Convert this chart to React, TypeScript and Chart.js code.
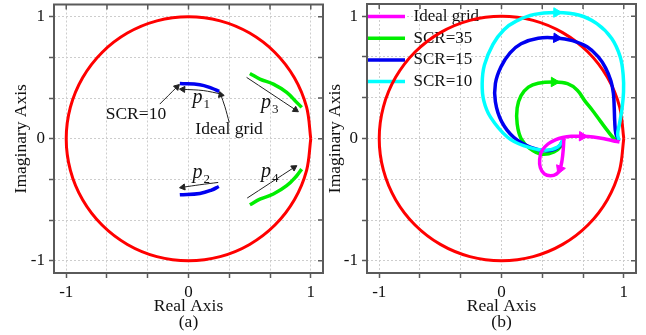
import React, { useEffect, useRef } from 'react';
import { Chart, registerables } from 'chart.js';

Chart.register(...registerables);

type Pt = [number, number];

const FONT = '"Liberation Serif", "Times New Roman", Times, serif';
const TEXT = '#111111';
const FRAME = '#5a5a5a';
const GRID = '#cdcdcd';
const RED = '#ff0000';
const BLUE = '#0000f0';
const GREEN = '#00ee00';
const CYAN = '#00ffff';
const MAGENTA = '#ff00ff';
const ANNOT = '#222222';

// ---- axes ----
const AXIS_MIN = -1.1;
const AXIS_MAX = 1.1;
const GRID_TICKS = [-1, -2 / 3, -1 / 3, 0, 1 / 3, 2 / 3, 1];
const LABELED_TICKS = [-1, 0, 1];

// ---- unit circle (reference) ----
const UNIT_CIRCLE: Pt[] = [
  [1, 0], [0.9659, 0.2588], [0.866, 0.5], [0.7071, 0.7071], [0.5, 0.866], [0.2588, 0.9659],
  [0, 1], [-0.2588, 0.9659], [-0.5, 0.866], [-0.7071, 0.7071], [-0.866, 0.5], [-0.9659, 0.2588],
  [-1, 0], [-0.9659, -0.2588], [-0.866, -0.5], [-0.7071, -0.7071], [-0.5, -0.866], [-0.2588, -0.9659],
  [0, -1], [0.2588, -0.9659], [0.5, -0.866], [0.7071, -0.7071], [0.866, -0.5], [0.9659, -0.2588], [1, 0],
];

// ---- panel (a): eigenvalue tracks ----
const A_P1: Pt[] = [[-0.071, 0.453], [0.093, 0.443], [0.188, 0.415], [0.251, 0.388]];
const A_P2: Pt[] = [[-0.071, -0.459], [0.093, -0.448], [0.188, -0.421], [0.248, -0.391]];
const A_P3: Pt[] = [[0.502, 0.535], [0.584, 0.489], [0.694, 0.448], [0.803, 0.38], [0.885, 0.298], [0.926, 0.257]];
const A_P4: Pt[] = [[0.502, -0.541], [0.584, -0.495], [0.694, -0.453], [0.803, -0.385], [0.885, -0.303], [0.926, -0.249]];

// panel (a) annotation arrows (tail -> head)
const ARROW_P1: Pt[] = [[0.27, 0.366], [0.12, 0.395], [-0.045, 0.405]];
const ARROW_SCR10: Pt[] = [[-0.235, 0.284], [-0.095, 0.424]];
const ARROW_IDEAL: Pt[] = [[0.333, 0.134], [0.298, 0.262], [0.264, 0.36]];
const ARROW_P3: Pt[] = [[0.475, 0.503], [0.875, 0.237]];
const ARROW_P2: Pt[] = [[0.243, -0.358], [0.093, -0.377], [-0.045, -0.397]];
const ARROW_P4: Pt[] = [[0.48, -0.486], [0.862, -0.236]];

const A_TEXTS = [
  { text: 'SCR=10', x: -0.43, y: 0.2 },
  { text: 'Ideal grid', x: 0.332, y: 0.079 },
];
const A_P_LABELS = [
  { sub: '1', x: 0.033, y: 0.297 },
  { sub: '2', x: 0.033, y: -0.324 },
  { sub: '3', x: 0.593, y: 0.256 },
  { sub: '4', x: 0.593, y: -0.31 },
];

// ---- panel (b): trajectories ----
const B_IDEAL: Pt[] = [
  [0.51, 0.0], [0.505, -0.09], [0.495, -0.18], [0.478, -0.25], [0.45, -0.29], [0.4, -0.305],
  [0.35, -0.29], [0.318, -0.24], [0.312, -0.17], [0.33, -0.1], [0.38, -0.045], [0.44, -0.012],
  [0.5, 0.008], [0.57, 0.018], [0.66, 0.018], [0.75, 0.012], [0.84, -0.002], [0.91, -0.018], [0.965, -0.028],
];
const B_IDEAL_ARROWS = [3, 14];

const B_SCR35: Pt[] = [
  [0.51, 0.0], [0.49, -0.06], [0.43, -0.11], [0.33, -0.128], [0.23, -0.08], [0.16, 0.0],
  [0.128, 0.12], [0.128, 0.25], [0.16, 0.35], [0.22, 0.42], [0.3, 0.452], [0.43, 0.462],
  [0.54, 0.448], [0.62, 0.395], [0.68, 0.31], [0.74, 0.235], [0.81, 0.14], [0.87, 0.06],
  [0.92, 0.0], [0.96, -0.025],
];
const B_SCR35_ARROWS = [11];

const B_SCR15: Pt[] = [
  [0.51, 0.0], [0.46, -0.075], [0.37, -0.1], [0.24, -0.072], [0.1, 0.01], [0.0, 0.14],
  [-0.05, 0.3], [-0.05, 0.45], [-0.005, 0.585], [0.07, 0.7], [0.16, 0.775], [0.3, 0.82],
  [0.45, 0.822], [0.58, 0.8], [0.7, 0.75], [0.79, 0.67], [0.85, 0.58], [0.895, 0.47],
  [0.915, 0.37], [0.922, 0.25], [0.926, 0.14], [0.935, 0.04], [0.96, -0.02],
];
const B_SCR15_ARROWS = [12];

const B_SCR10: Pt[] = [
  [0.51, 0.0], [0.46, -0.07], [0.35, -0.095], [0.18, -0.058], [0.05, 0.01], [-0.09, 0.175],
  [-0.145, 0.31], [-0.158, 0.45], [-0.14, 0.6], [-0.07, 0.77], [0.02, 0.89], [0.12, 0.96],
  [0.27, 1.015], [0.45, 1.03], [0.63, 1.01], [0.78, 0.94], [0.9, 0.82], [0.97, 0.67],
  [0.995, 0.52], [0.998, 0.38], [0.985, 0.24], [0.965, 0.12], [0.95, 0.04], [0.96, -0.015],
];
const B_SCR10_ARROWS = [13];

const B_LABELS = ['Ideal grid', 'SCR=35', 'SCR=15', 'SCR=10'];

// ---- helpers ----
const toXY = (pts: Pt[]) => pts.map(([x, y]) => ({ x, y }));

function rotationAt(pts: Pt[], i: number) {
  const a = pts[Math.max(i - 1, 0)];
  const b = pts[Math.min(i + 1, pts.length - 1)];
  const deg = (Math.atan2(b[1] - a[1], b[0] - a[0]) * 180) / Math.PI;
  return 90 - deg;
}

function curve(pts: Pt[], color: string, width: number, extra: any = {}) {
  return {
    data: toXY(pts),
    borderColor: color,
    backgroundColor: color,
    borderWidth: width,
    pointRadius: 0,
    pointHoverRadius: 0,
    tension: 0.4,
    ...extra,
  };
}

function arrowCurve(pts: Pt[], color: string, width: number, arrowIdx: number[], size: number, extra: any = {}) {
  return {
    ...curve(pts, color, width, extra),
    pointStyle: 'triangle',
    pointRadius: (c: any) => (arrowIdx.includes(c.dataIndex) ? size : 0),
    pointRotation: (c: any) => rotationAt(pts, c.dataIndex),
    pointBackgroundColor: color,
    pointBorderColor: color,
    pointBorderWidth: 1,
  };
}

function tickLabel(v: number) {
  const hit = LABELED_TICKS.find((t) => Math.abs(t - v) < 1e-6);
  return hit === undefined ? '' : String(hit);
}

function zeroPadding(s: any) {
  s.paddingTop = 0;
  s.paddingBottom = 0;
  s.paddingLeft = 0;
  s.paddingRight = 0;
}

function buildScales(letter: string, yAxisWidth: number, yTitlePad: number) {
  const tickFont = { family: FONT, size: 17 };
  const titleFont = { family: FONT, size: 17.5, lineHeight: '16px' };
  const base = () => ({
    type: 'linear',
    min: AXIS_MIN,
    max: AXIS_MAX,
    afterBuildTicks: (s: any) => {
      s.ticks = GRID_TICKS.map((value) => ({ value }));
    },
    ticks: {
      autoSkip: false,
      maxRotation: 0,
      minRotation: 0,
      padding: 4,
      color: TEXT,
      font: tickFont,
      callback: (v: number) => tickLabel(v),
    },
    grid: {
      color: GRID,
      lineWidth: 1,
      drawTicks: true,
      tickLength: 5,
      tickColor: FRAME,
      tickWidth: 1.5,
    },
    border: { display: false, dash: [2, 2] },
  });
  return {
    x: {
      ...base(),
      position: 'bottom',
      afterFit: (s: any) => {
        s.height = 62;
        zeroPadding(s);
      },
      title: {
        display: true,
        text: ['Real Axis', `(${letter})`],
        color: TEXT,
        font: titleFont,
        padding: { top: 0, bottom: 5 },
      },
    },
    y: {
      ...base(),
      position: 'left',
      afterFit: (s: any) => {
        s.width = yAxisWidth;
        zeroPadding(s);
      },
      title: {
        display: true,
        text: 'Imaginary Axis',
        color: TEXT,
        font: titleFont,
        padding: { top: yTitlePad, bottom: 0 },
      },
    },
  };
}

const framePlugin = {
  id: 'frame',
  beforeDatasetsDraw(chart: any) {
    const { ctx, chartArea: a } = chart;
    const xs = chart.scales.x;
    const ys = chart.scales.y;
    ctx.save();
    ctx.strokeStyle = FRAME;
    ctx.lineWidth = 1.5;
    ctx.beginPath();
    xs.ticks.forEach((t: any) => {
      const p = xs.getPixelForValue(t.value);
      ctx.moveTo(p, a.top);
      ctx.lineTo(p, a.top + 5);
    });
    ys.ticks.forEach((t: any) => {
      const p = ys.getPixelForValue(t.value);
      ctx.moveTo(a.right, p);
      ctx.lineTo(a.right - 5, p);
    });
    ctx.stroke();
    ctx.lineWidth = 2;
    ctx.strokeRect(a.left, a.top, a.right - a.left, a.bottom - a.top);
    ctx.restore();
  },
};

const annotationPlugin = {
  id: 'annotA',
  afterDatasetsDraw(chart: any) {
    const { ctx } = chart;
    const xs = chart.scales.x;
    const ys = chart.scales.y;
    ctx.save();
    ctx.fillStyle = TEXT;
    ctx.textAlign = 'center';
    ctx.textBaseline = 'middle';
    ctx.font = `17.5px ${FONT}`;
    A_TEXTS.forEach((t) => ctx.fillText(t.text, xs.getPixelForValue(t.x), ys.getPixelForValue(t.y)));
    ctx.textAlign = 'left';
    ctx.textBaseline = 'alphabetic';
    A_P_LABELS.forEach((p) => {
      const px = xs.getPixelForValue(p.x);
      const py = ys.getPixelForValue(p.y);
      ctx.font = `italic 20px ${FONT}`;
      ctx.fillText('p', px, py);
      const w = ctx.measureText('p').width;
      ctx.font = `13px ${FONT}`;
      ctx.fillText(p.sub, px + w + 1, py + 5);
    });
    ctx.restore();
  },
};

const LEGEND_PAD = 4.7;
const legendPlacePlugin = {
  id: 'legendPlace',
  afterLayout(chart: any) {
    const l = chart.legend;
    if (!l) return;
    const w = l.right - l.left;
    const h = l.bottom - l.top;
    l.left = chart.chartArea.left - 1 - LEGEND_PAD;
    l.right = l.left + w;
    l.top = 8 - LEGEND_PAD;
    l.bottom = l.top + h;
  },
};

function configA() {
  const arrowOpts = { tension: 0.3, order: 0 };
  return {
    type: 'line',
    data: {
      datasets: [
        curve(UNIT_CIRCLE, RED, 3, { tension: 0.338, order: 10 }),
        curve(A_P1, BLUE, 3.5, { order: 2 }),
        curve(A_P2, BLUE, 3.5, { order: 2 }),
        curve(A_P3, GREEN, 3.5, { order: 2 }),
        curve(A_P4, GREEN, 3.5, { order: 2 }),
        arrowCurve(ARROW_P1, ANNOT, 1, [ARROW_P1.length - 1], 3.5, arrowOpts),
        arrowCurve(ARROW_SCR10, ANNOT, 1, [ARROW_SCR10.length - 1], 3.5, arrowOpts),
        arrowCurve(ARROW_IDEAL, ANNOT, 1, [ARROW_IDEAL.length - 1], 3.5, arrowOpts),
        arrowCurve(ARROW_P3, ANNOT, 1, [ARROW_P3.length - 1], 3.5, arrowOpts),
        arrowCurve(ARROW_P2, ANNOT, 1, [ARROW_P2.length - 1], 3.5, arrowOpts),
        arrowCurve(ARROW_P4, ANNOT, 1, [ARROW_P4.length - 1], 3.5, arrowOpts),
      ],
    },
    options: {
      responsive: false,
      animation: false,
      events: [],
      layout: { padding: { top: 4, right: 7, left: 0, bottom: 0 } },
      plugins: { legend: { display: false }, tooltip: { enabled: false } },
      scales: buildScales('a', 54, 13.7),
    },
    plugins: [framePlugin, annotationPlugin],
  };
}

function configB() {
  return {
    type: 'line',
    data: {
      datasets: [
        arrowCurve(B_IDEAL, MAGENTA, 3.5, B_IDEAL_ARROWS, 5.5, { label: B_LABELS[0], order: 1 }),
        arrowCurve(B_SCR35, GREEN, 3.5, B_SCR35_ARROWS, 5.5, { label: B_LABELS[1], order: 4 }),
        arrowCurve(B_SCR15, BLUE, 3.5, B_SCR15_ARROWS, 5.5, { label: B_LABELS[2], order: 3 }),
        arrowCurve(B_SCR10, CYAN, 3.5, B_SCR10_ARROWS, 5.5, { label: B_LABELS[3], order: 2 }),
        curve(UNIT_CIRCLE, RED, 3, { tension: 0.338, order: 10, label: 'unit circle' }),
      ],
    },
    options: {
      responsive: false,
      animation: false,
      events: [],
      layout: { padding: { top: 4, right: 10, left: 0, bottom: 0 } },
      plugins: {
        tooltip: { enabled: false },
        legend: {
          display: true,
          position: 'chartArea',
          align: 'start',
          labels: {
            boxWidth: 39,
            boxHeight: 0,
            padding: LEGEND_PAD,
            color: TEXT,
            font: { family: FONT, size: 17 },
            filter: (item: any) => item.datasetIndex < 4,
            sort: (a: any, b: any) => a.datasetIndex - b.datasetIndex,
          },
        },
      },
      scales: buildScales('b', 51, 11),
    },
    plugins: [framePlugin, legendPlacePlugin],
  };
}

function Panel({ make, left, width }: { make: () => any; left: number; width: number }) {
  const ref = useRef<HTMLCanvasElement | null>(null);
  useEffect(() => {
    if (!ref.current) return;
    const chart = new Chart(ref.current, make());
    return () => chart.destroy();
  }, [make]);
  return (
    <canvas
      ref={ref}
      width={width}
      height={335}
      style={{ position: 'absolute', left, top: 0, width, height: 335 }}
    />
  );
}

export default function App() {
  return (
    <div
      style={{
        position: 'absolute',
        left: 0,
        top: 0,
        width: 646,
        height: 335,
        background: '#ffffff',
        overflow: 'hidden',
      }}
    >
      <Panel make={configA} left={0} width={330} />
      <Panel make={configB} left={316} width={330} />
    </div>
  );
}
